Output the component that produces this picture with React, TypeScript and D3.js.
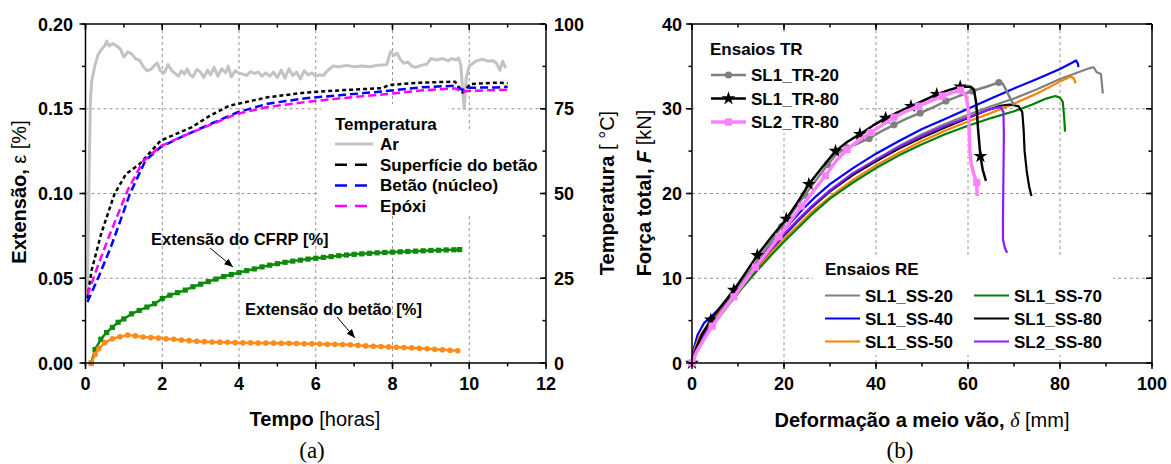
import * as d3 from 'd3'

const W = 1171
const H = 464
const SANS = '"Liberation Sans", Arial, Helvetica, sans-serif'
const SERIF = '"Liberation Serif", "Times New Roman", serif'

// ---------------- (a) creep test ----------------
const HOUR_TICKS = [0, 2, 4, 6, 8, 10, 12]
const STRAIN_TICKS = [0, 0.05, 0.1, 0.15, 0.2]
const STRAIN_LABELS = ['0.00', '0.05', '0.10', '0.15', '0.20']
const TEMP_TICKS = [0, 25, 50, 75, 100]

// temperatures, [hours, °C]
const TEMP_AR = [
  [0.05, 20], [0.1, 60], [0.13, 78], [0.16, 83], [0.25, 88], [0.33, 91], [0.42, 92.6], [0.5, 93.5],
  [0.55, 95], [0.62, 93.5], [0.7, 94.2], [0.8, 93.6], [0.9, 92.8], [1.0, 90.2], [1.1, 91.8], [1.2, 91.2],
  [1.3, 89.8], [1.42, 89.2], [1.5, 87.5], [1.6, 86.2], [1.7, 86.6], [1.8, 87.8], [1.87, 88.5], [1.95, 86.2],
  [2.05, 85.6], [2.15, 88.0], [2.25, 86.2], [2.33, 85.5], [2.42, 84.6], [2.5, 86.2], [2.58, 85.2], [2.65, 86.8],
  [2.72, 85.0], [2.8, 84.4], [2.9, 86.6], [3.0, 85.8], [3.08, 84.2], [3.18, 86.4], [3.26, 85.0], [3.35, 87.2],
  [3.45, 84.6], [3.55, 86.8], [3.65, 85.6], [3.72, 87.6], [3.8, 84.4], [3.9, 86.2], [4.0, 85.5], [4.1, 85.2],
  [4.2, 84.8], [4.3, 86.0], [4.4, 85.4], [4.5, 85.8], [4.6, 84.6], [4.7, 85.6], [4.8, 84.6], [4.9, 85.8],
  [5.0, 84.2], [5.1, 86.4], [5.2, 84.0], [5.3, 86.8], [5.4, 84.8], [5.5, 85.8], [5.6, 83.8], [5.7, 86.2],
  [5.8, 85.0], [5.9, 85.6], [6.0, 84.6], [6.1, 85.0], [6.2, 84.8], [6.3, 86.2], [6.45, 87.6], [6.6, 87.4],
  [6.8, 87.8], [7.0, 87.4], [7.2, 87.6], [7.4, 87.4], [7.6, 87.8], [7.85, 88.0], [7.95, 91.8], [8.05, 90.8],
  [8.12, 91.4], [8.2, 89.6], [8.3, 88.4], [8.4, 88.8], [8.5, 87.6], [8.6, 87.2], [8.75, 87.8], [8.9, 88.2],
  [9.0, 89.8], [9.15, 89.4], [9.3, 89.8], [9.45, 89.2], [9.55, 89.8], [9.65, 89.4], [9.72, 90.0], [9.78, 88.0],
  [9.83, 80], [9.87, 75], [9.92, 84], [10.0, 87.6], [10.1, 88.4], [10.2, 89.2], [10.35, 89.6], [10.5, 89.0],
  [10.6, 89.2], [10.7, 88.6], [10.8, 86.4], [10.87, 89.0], [10.95, 87.0],
]
const TEMP_SURFACE = [
  [0.05, 19], [0.16, 27.4], [0.41, 38.2], [0.76, 50], [1.06, 55.8], [1.41, 58.7], [1.96, 65.6], [2.76, 69.5],
  [3.25, 73], [3.75, 75.9], [4.75, 78.4], [5.74, 79.8], [6.74, 80.5], [7.74, 81.1], [7.9, 82.0], [8.74, 82.7],
  [9.63, 83], [9.83, 79.8], [10.03, 82.3], [10.73, 82.7], [11.0, 82.5],
]
const TEMP_CORE = [
  [0.05, 18], [0.36, 25.9], [0.66, 34.2], [0.91, 42], [1.16, 50], [1.56, 59.7], [1.96, 63.7], [2.56, 67],
  [3.26, 70.5], [3.95, 73.9], [4.75, 76.5], [5.74, 78.1], [6.74, 79.1], [7.74, 80.1], [8.74, 81.3], [9.63, 81.8],
  [9.83, 80.5], [10.0, 81.2], [10.73, 81.3], [11.0, 81.5],
]
const TEMP_EPOXY = [
  [0.05, 20], [0.3, 28], [0.6, 37], [0.85, 44], [1.1, 51], [1.5, 59.5], [1.96, 64], [2.56, 67],
  [3.26, 70.3], [3.95, 73.5], [4.75, 75.5], [5.74, 77], [6.74, 78.2], [7.74, 79.2], [8.74, 80.4], [9.63, 81],
  [9.83, 80], [10.0, 80.3], [10.73, 80.5], [11.0, 80.6],
]
// strains, [hours, %]
const STRAIN_CFRP = [
  [0.15, 0], [0.25, 0.008], [0.4, 0.014], [0.55, 0.018], [0.7, 0.021], [0.85, 0.024], [1.0, 0.026], [1.2, 0.029],
  [1.4, 0.031], [1.6, 0.033], [1.8, 0.035], [2.0, 0.038], [2.2, 0.04], [2.4, 0.0415], [2.6, 0.043], [2.8, 0.045],
  [3.0, 0.0465], [3.2, 0.048], [3.4, 0.0495], [3.6, 0.051], [3.8, 0.0522], [4.0, 0.0533], [4.2, 0.0545], [4.4, 0.0555],
  [4.6, 0.0567], [4.8, 0.0577], [5.0, 0.0586], [5.2, 0.0594], [5.4, 0.0601], [5.6, 0.0607], [5.8, 0.0613], [6.0, 0.0618],
  [6.2, 0.0623], [6.4, 0.0628], [6.6, 0.0633], [6.8, 0.0637], [7.0, 0.0641], [7.2, 0.0644], [7.4, 0.0647], [7.6, 0.065],
  [7.8, 0.0652], [8.0, 0.0654], [8.2, 0.0656], [8.4, 0.0658], [8.6, 0.066], [8.8, 0.0662], [9.0, 0.0664], [9.2, 0.0665],
  [9.4, 0.0667], [9.6, 0.0668], [9.75, 0.0669],
]
const STRAIN_CONCRETE = [
  [0.15, 0], [0.25, 0.005], [0.35, 0.0085], [0.5, 0.012], [0.7, 0.0143], [0.9, 0.0155], [1.1, 0.0165], [1.3, 0.016],
  [1.5, 0.0153], [1.7, 0.015], [1.9, 0.0147], [2.1, 0.0143], [2.3, 0.014], [2.5, 0.0136], [2.7, 0.0132], [2.9, 0.0128],
  [3.1, 0.0126], [3.3, 0.0124], [3.5, 0.0123], [3.7, 0.0122], [3.9, 0.012], [4.1, 0.0119], [4.3, 0.0119], [4.5, 0.0118],
  [4.7, 0.0118], [4.9, 0.0117], [5.1, 0.0116], [5.3, 0.0116], [5.5, 0.0115], [5.7, 0.0114], [5.9, 0.0113], [6.1, 0.0112],
  [6.3, 0.0111], [6.5, 0.011], [6.7, 0.0109], [6.9, 0.0107], [7.1, 0.0104], [7.3, 0.0101], [7.5, 0.0099], [7.7, 0.0097],
  [7.9, 0.0095], [8.1, 0.0093], [8.3, 0.0091], [8.5, 0.0089], [8.7, 0.0087], [8.9, 0.0084], [9.1, 0.0081], [9.3, 0.0078],
  [9.5, 0.0075], [9.7, 0.0072],
]

const TEMP_SERIES = [
  { label: 'Ar', color: '#c3c3c3', dash: null, legendDash: null, width: 3, data: TEMP_AR },
  { label: 'Superfície do betão', color: '#000000', dash: '4,3', legendDash: '12,8', width: 2.5, data: TEMP_SURFACE },
  { label: 'Betão (núcleo)', color: '#0000ff', dash: '8,4', legendDash: '12,8', width: 2.5, data: TEMP_CORE },
  { label: 'Epóxi', color: '#ff00ff', dash: '8,4', legendDash: '12,8', width: 2.5, data: TEMP_EPOXY },
]

// ---------------- (b) bending tests, [mm, kN] ----------------
const DEFL_TICKS = [0, 20, 40, 60, 80, 100]
const FORCE_TICKS = [0, 10, 20, 30, 40]

const SS20 = [
  [0, 0], [0.5, 1.2], [2, 2.8], [5, 4.8], [8, 6.9], [11, 9], [14, 11.1], [17, 13.1], [20, 15], [23, 16.7],
  [26, 18.3], [30, 20.2], [35, 22.2], [40, 24], [45, 25.6], [50, 27], [55, 28.2], [60, 29.3], [65, 30.3],
  [70, 31.2], [75, 32.3], [80, 33.5], [84, 34.3], [86.5, 34.8], [87.3, 34.9], [88, 34.3], [88.9, 34.1],
  [89.1, 33], [89.3, 31.8],
]
const SS40 = [
  [0, 0], [0.3, 1.5], [1.2, 3.3], [2.6, 4.7], [4.4, 5.6], [6.6, 6.8], [9, 8.3], [12, 10.4], [15, 12.4],
  [18, 14.4], [21, 16.3], [24, 18.1], [27, 19.7], [30, 21.1], [35, 23], [40, 24.7], [45, 26.2], [50, 27.6],
  [55, 28.8], [60, 30], [65, 31.2], [70, 32.4], [75, 33.5], [80, 34.7], [82.5, 35.4], [83.5, 35.7],
  [83.9, 35.3], [84.0, 34.9],
]
const SS50 = [
  [0, 0], [0.4, 1.4], [1.5, 3.0], [3, 4.2], [5, 5.4], [8, 7.3], [11, 9.2], [14, 11.1], [17, 12.9], [20, 14.6],
  [23, 16.2], [26, 17.8], [30, 19.6], [35, 21.6], [40, 23.3], [45, 24.8], [50, 26.2], [55, 27.4], [60, 28.5],
  [65, 29.5], [70, 30.6], [75, 31.8], [80, 33.2], [82.3, 33.8], [83, 33.6], [83.4, 33.0],
]
const SS70 = [
  [0, 0], [0.5, 1.2], [2, 2.8], [5, 4.8], [8, 6.9], [11, 8.9], [14, 10.8], [17, 12.6], [20, 14.3], [23, 15.9],
  [26, 17.5], [30, 19.4], [35, 21.3], [40, 23], [45, 24.5], [50, 25.8], [55, 27], [60, 28], [65, 28.9],
  [70, 29.7], [74, 30.5], [77, 31.2], [79, 31.5], [80, 31.3], [80.6, 30.8], [80.9, 29], [81.1, 27.3],
]
const SS80 = [
  [0, 0], [0.5, 1.3], [2, 3], [5, 5], [8, 7.1], [11, 9.2], [14, 11.3], [17, 13.3], [20, 15.1], [23, 16.8],
  [26, 18.4], [30, 20.3], [35, 22.2], [40, 23.8], [45, 25.3], [50, 26.6], [55, 27.8], [60, 28.9], [64, 29.8],
  [67, 30.35], [69, 30.5], [71, 30.3], [71.8, 29.6], [72.1, 27.5], [72.3, 25], [72.8, 22.5], [73.3, 20.8],
  [73.8, 19.7],
]
const SL2_SS80 = [
  [0, 0], [0.5, 1.3], [2, 3], [5, 5], [8, 7.1], [11, 9.2], [14, 11.3], [17, 13.3], [20, 15.2], [23, 16.9],
  [26, 18.5], [30, 20.4], [35, 22.4], [40, 24], [45, 25.5], [50, 26.8], [55, 28], [60, 29], [64, 29.8],
  [66, 30.1], [67.1, 30.2], [67.7, 29.6], [67.8, 27], [67.7, 22], [67.6, 17], [67.6, 14.6], [68, 13.6],
  [68.5, 13],
]
const TR20 = [
  [0, 0], [1, 1.4], [2.5, 2.8], [4.5, 4.7], [7, 6.6], [9.5, 8.5], [12, 10.4], [14.5, 12.3], [17, 14.2],
  [19.5, 16.1], [22, 17.9], [24.5, 19.8], [27, 21.6], [29.5, 23.4], [31.5, 24.7], [33.7, 25.4], [36, 25.9],
  [38.5, 26.5], [41, 27.3], [43.9, 28.1], [46.5, 28.8], [49.6, 29.5], [52.5, 30.2], [55.2, 30.9], [58, 31.5],
  [61, 32.1], [64, 32.6], [66.7, 33.1], [67.5, 33.0], [68.3, 32.2], [69.2, 31.2], [70, 30.4],
]
const TR20_MARKS = [
  [0, 0], [4.5, 4.7], [9.5, 8.5], [14.5, 12.3], [19.5, 16.1], [24.5, 19.8], [29.5, 23.4], [33.7, 25.4],
  [38.5, 26.5], [43.9, 28.1], [49.6, 29.5], [55.2, 30.9], [61, 32.1], [66.7, 33.1],
]
const TR80 = [
  [0, 0], [1, 1.8], [2, 3.2], [4.1, 5.1], [6.5, 6.8], [9.1, 8.6], [11.6, 10.6], [14.2, 12.7], [17.3, 14.9],
  [20.5, 17.0], [23, 19], [25.4, 21.1], [28.3, 23.1], [31.2, 25.0], [33.8, 26.1], [36.5, 27.0], [39.3, 28.0],
  [42.1, 28.9], [44.8, 29.6], [47.6, 30.3], [50.4, 31.0], [53.2, 31.7], [55.8, 32.2], [58.3, 32.6], [60.6, 32.6],
  [61.3, 32.2], [61.8, 30.6], [62.2, 27.5], [62.7, 24.4], [63.2, 22.8], [63.9, 21.5],
]
const TR80_MARKS = [
  [0, 0], [4.1, 5.1], [9.1, 8.6], [14.2, 12.7], [20.5, 17.0], [25.4, 21.1], [31.2, 25.0], [36.5, 27.0],
  [42.1, 28.9], [47.6, 30.3], [53.2, 31.7], [58.3, 32.6], [62.7, 24.4],
]
const SL2_TR80 = [
  [0, 0], [1, 1.3], [2.5, 2.7], [4.4, 4.35], [6.7, 6.1], [9.1, 7.8], [11.5, 9.6], [13.8, 11.3], [16.4, 13.1],
  [18.9, 14.9], [21.3, 16.7], [23.8, 18.5], [26.4, 20.3], [29, 22.1], [31.4, 23.9], [33.7, 25.2], [36.3, 26.3],
  [38.9, 27.2], [41.4, 28.1], [43.9, 29], [46.5, 29.7], [49.2, 30.3], [51.8, 30.9], [54.4, 31.5], [56.5, 31.9],
  [58.4, 32.2], [59.6, 31.5], [60.1, 29.7], [60.4, 25.1], [60.7, 23.5], [61.3, 22.2], [61.9, 21.3], [62.0, 19.7],
]
const SL2_TR80_MARKS = [
  [0, 0], [4.4, 4.35], [9.1, 7.8], [13.8, 11.3], [18.9, 14.9], [23.8, 18.5], [29, 22.1], [33.7, 25.2],
  [38.9, 27.2], [43.9, 29], [49.2, 30.3], [54.4, 31.5], [58.4, 32.2], [61.9, 21.3],
]

const RE_SERIES = [
  { label: 'SL1_SS-20', color: '#808080', data: SS20 },
  { label: 'SL1_SS-40', color: '#0000ff', data: SS40 },
  { label: 'SL1_SS-50', color: '#ff8000', data: SS50 },
  { label: 'SL1_SS-70', color: '#008000', data: SS70 },
  { label: 'SL1_SS-80', color: '#000000', data: SS80 },
  { label: 'SL2_SS-80', color: '#8c1aff', data: SL2_SS80 },
]
const TR_SERIES = [
  { label: 'SL1_TR-20', color: '#808080', width: 2.5, marker: 'circle', data: TR20, marks: TR20_MARKS },
  { label: 'SL1_TR-80', color: '#000000', width: 2.5, marker: 'star', data: TR80, marks: TR80_MARKS },
  { label: 'SL2_TR-80', color: '#ff80ff', width: 3.5, marker: 'square', data: SL2_TR80, marks: SL2_TR80_MARKS },
]

// plot frames
const TOP = 24
const BOTTOM = 363
const A_LEFT = 85.5
const A_RIGHT = 546
const B_LEFT = 692
const B_RIGHT = 1152

const xA = d3.scaleLinear().domain([0, 12]).range([A_LEFT, A_RIGHT])
const yA = d3.scaleLinear().domain([0, 0.2]).range([BOTTOM, TOP])
const tA = d3.scaleLinear().domain([0, 100]).range([BOTTOM, TOP])
const xB = d3.scaleLinear().domain([0, 100]).range([B_LEFT, B_RIGHT])
const yB = d3.scaleLinear().domain([0, 40]).range([BOTTOM, TOP])

const GRID = { stroke: '#8a8a8a', strokeWidth: 0.9, strokeDasharray: '3,3' }

function Marker({ kind, x, y, color, size = 1 }) {
  if (kind === 'circle') return <circle cx={x} cy={y} r={3.6 * size} fill={color} />
  if (kind === 'square') return <rect x={x - 3.6 * size} y={y - 3.6 * size} width={7.2 * size} height={7.2 * size} fill={color} />
  const star = d3.symbol().type(d3.symbolStar).size(60 * size)()
  return <path d={star} transform={`translate(${x},${y})`} fill={color} />
}

// tick marks along a side; dir = +1/-1 in pixels
function TickSet({ values, scale, side, at, len }) {
  return (
    <g stroke="#000" strokeWidth={1.5}>
      {values.map((v) => {
        const p = scale(v)
        return side === 'h'
          ? <line key={v} x1={p} x2={p} y1={at} y2={at + len} />
          : <line key={v} x1={at} x2={at + len} y1={p} y2={p} />
      })}
    </g>
  )
}

export default function App() {
  const lineA = (yS) => d3.line().x((d) => xA(d[0])).y((d) => yS(d[1]))
  const lineB = d3.line().x((d) => xB(d[0])).y((d) => yB(d[1]))

  const hourMinor = d3.range(0, 12.01, 1)
  const strainMinor = d3.range(0, 0.2001, 0.025)
  const tempMinor = d3.range(0, 100.1, 12.5)
  const deflMinor = d3.range(0, 100.1, 10)
  const forceMinor = d3.range(0, 40.1, 5)

  const tick = { fontFamily: SANS, fontWeight: 700, fontSize: 18 }
  const title = { fontFamily: SANS, fontSize: 20 }
  const leg = { fontFamily: SANS, fontWeight: 700, fontSize: 17 }

  return (
    <svg width={W} height={H} style={{ position: 'absolute', left: 0, top: 0, background: '#fff' }}>
      <defs>
        <marker id="arrow" viewBox="0 0 10 8" refX="10" refY="4" markerWidth="9" markerHeight="7"
          markerUnits="userSpaceOnUse" orient="auto">
          <path d="M0,0 L10,4 L0,8 z" fill="#000" />
        </marker>
      </defs>

      {/* ================= (a) ================= */}
      <g>
        {HOUR_TICKS.slice(1, -1).map((h) => (
          <line key={h} x1={xA(h)} x2={xA(h)} y1={TOP} y2={BOTTOM} {...GRID} />
        ))}
        {STRAIN_TICKS.slice(1, -1).map((s) => (
          <line key={s} x1={A_LEFT} x2={A_RIGHT} y1={yA(s)} y2={yA(s)} {...GRID} />
        ))}
        {/* legend backgrounds */}
        <rect x={321} y={104} width={127} height={28} fill="#fff" />
        <rect x={319} y={131} width={226} height={83} fill="#fff" />

        {TEMP_SERIES.map((s) => (
          <path key={s.label} d={lineA(tA)(s.data)} fill="none" stroke={s.color} strokeWidth={s.width}
            strokeDasharray={s.dash || undefined} strokeLinejoin="round" />
        ))}
        <path d={lineA(yA)(STRAIN_CFRP)} fill="none" stroke="#0f8a0f" strokeWidth={2.5} />
        {STRAIN_CFRP.map((d, i) => (
          <rect key={i} x={xA(d[0]) - 2.6} y={yA(d[1]) - 2.6} width={5.2} height={5.2} fill="#0f8a0f" />
        ))}
        <path d={lineA(yA)(STRAIN_CONCRETE)} fill="none" stroke="#ff8c1a" strokeWidth={2.5} />
        {STRAIN_CONCRETE.map((d, i) => (
          <circle key={i} cx={xA(d[0])} cy={yA(d[1])} r={2.8} fill="#ff8c1a" />
        ))}

        {/* annotations */}
        <text x={151} y={245} {...leg} fontSize={16.5}>Extensão do CFRP [%]</text>
        <line x1={210} y1={248} x2={233} y2={267} stroke="#000" strokeWidth={1} markerEnd="url(#arrow)" />
        <text x={245} y={315} {...leg} fontSize={16.5}>Extensão do betão [%]</text>
        <line x1={337} y1={317} x2={355} y2={338} stroke="#000" strokeWidth={1} markerEnd="url(#arrow)" />

        {/* legend */}
        <text x={335} y={130} {...leg}>Temperatura</text>
        {TEMP_SERIES.map((s, i) => {
          const y = 150 + i * 20.7
          return (
            <g key={s.label}>
              <line x1={335} x2={373} y1={y - 6} y2={y - 6} stroke={s.color} strokeWidth={s.width}
                strokeDasharray={s.legendDash || undefined} />
              <text x={380} y={y} {...leg}>{s.label}</text>
            </g>
          )
        })}

        {/* frame */}
        <g stroke="#000" strokeWidth={1.5} fill="none">
          <line x1={A_LEFT} x2={A_RIGHT} y1={TOP} y2={TOP} />
          <line x1={A_LEFT} x2={A_RIGHT} y1={BOTTOM} y2={BOTTOM} />
          <line x1={A_LEFT} x2={A_LEFT} y1={TOP} y2={BOTTOM} />
          <line x1={A_RIGHT} x2={A_RIGHT} y1={TOP} y2={BOTTOM} />
        </g>
        <TickSet values={HOUR_TICKS} scale={xA} side="h" at={BOTTOM} len={6} />
        <TickSet values={hourMinor} scale={xA} side="h" at={BOTTOM} len={3.5} />
        <TickSet values={HOUR_TICKS} scale={xA} side="h" at={TOP} len={6} />
        <TickSet values={hourMinor} scale={xA} side="h" at={TOP} len={3.5} />
        <TickSet values={STRAIN_TICKS} scale={yA} side="v" at={A_LEFT} len={-6} />
        <TickSet values={strainMinor} scale={yA} side="v" at={A_LEFT} len={-3.5} />
        <TickSet values={TEMP_TICKS} scale={tA} side="v" at={A_RIGHT} len={-6} />
        <TickSet values={tempMinor} scale={tA} side="v" at={A_RIGHT} len={-3.5} />

        {STRAIN_TICKS.map((s, i) => (
          <text key={s} x={73} y={yA(s) + 6.5} textAnchor="end" {...tick}>{STRAIN_LABELS[i]}</text>
        ))}
        {TEMP_TICKS.map((t) => (
          <text key={t} x={554} y={tA(t) + 6.5} {...tick}>{t}</text>
        ))}
        {HOUR_TICKS.map((h) => (
          <text key={h} x={xA(h)} y={390} textAnchor="middle" {...tick}>{h}</text>
        ))}

        <text x={315} y={426} textAnchor="middle" {...title}>
          <tspan fontWeight={700}>Tempo</tspan> [horas]
        </text>
        <text transform="translate(26,192) rotate(-90)" textAnchor="middle" {...title}>
          <tspan fontWeight={700}>Extensão,</tspan> ε [%]
        </text>
        <text transform="translate(614,193) rotate(-90)" textAnchor="middle" {...title}>
          <tspan fontWeight={700}>Temperatura</tspan> [ °C]
        </text>
        <text x={312} y={458} textAnchor="middle" fontFamily={SERIF} fontSize={23}>(a)</text>
      </g>

      {/* ================= (b) ================= */}
      <g>
        {DEFL_TICKS.slice(1, -1).map((d) => (
          <line key={d} x1={xB(d)} x2={xB(d)} y1={TOP} y2={BOTTOM} {...GRID} />
        ))}
        {FORCE_TICKS.slice(1, -1).map((f) => (
          <line key={f} x1={B_LEFT} x2={B_RIGHT} y1={yB(f)} y2={yB(f)} {...GRID} />
        ))}
        {/* legend backgrounds */}
        <rect x={694} y={32} width={163} height={101} fill="#fff" />
        <rect x={813} y={257} width={300} height={98} fill="#fff" />

        {RE_SERIES.map((s) => (
          <path key={s.label} d={lineB(s.data)} fill="none" stroke={s.color} strokeWidth={2.2} strokeLinejoin="round" />
        ))}
        {TR_SERIES.map((s) => (
          <g key={s.label}>
            <path d={lineB(s.data)} fill="none" stroke={s.color} strokeWidth={s.width} strokeLinejoin="round" />
            {s.marks.map((d, i) => (
              <Marker key={i} kind={s.marker} x={xB(d[0])} y={yB(d[1])} color={s.color} />
            ))}
          </g>
        ))}

        {/* TR legend */}
        <text x={710} y={55} {...leg}>Ensaios TR</text>
        {TR_SERIES.map((s, i) => {
          const y = 81 + i * 23.5
          return (
            <g key={s.label}>
              <line x1={711} x2={746} y1={y - 6} y2={y - 6} stroke={s.color} strokeWidth={s.width} />
              <Marker kind={s.marker} x={728.5} y={y - 6} color={s.color} />
              <text x={751} y={y} {...leg}>{s.label}</text>
            </g>
          )
        })}

        {/* RE legend */}
        <text x={825} y={275} {...leg}>Ensaios RE</text>
        {RE_SERIES.map((s, i) => {
          const col = Math.floor(i / 3)
          const y = 301.5 + (i % 3) * 23
          const x0 = col === 0 ? 825 : 974
          return (
            <g key={s.label}>
              <line x1={x0} x2={x0 + 35} y1={y - 6} y2={y - 6} stroke={s.color} strokeWidth={2} />
              <text x={x0 + 40} y={y} {...leg}>{s.label}</text>
            </g>
          )
        })}

        {/* frame */}
        <g stroke="#000" strokeWidth={1.5} fill="none">
          <line x1={B_LEFT} x2={B_RIGHT} y1={TOP} y2={TOP} />
          <line x1={B_LEFT} x2={B_RIGHT} y1={BOTTOM} y2={BOTTOM} />
          <line x1={B_LEFT} x2={B_LEFT} y1={TOP} y2={BOTTOM} />
          <line x1={B_RIGHT} x2={B_RIGHT} y1={TOP} y2={BOTTOM} />
        </g>
        <TickSet values={DEFL_TICKS} scale={xB} side="h" at={BOTTOM} len={6} />
        <TickSet values={deflMinor} scale={xB} side="h" at={BOTTOM} len={3.5} />
        <TickSet values={DEFL_TICKS} scale={xB} side="h" at={TOP} len={6} />
        <TickSet values={deflMinor} scale={xB} side="h" at={TOP} len={3.5} />
        <TickSet values={FORCE_TICKS} scale={yB} side="v" at={B_LEFT} len={-6} />
        <TickSet values={forceMinor} scale={yB} side="v" at={B_LEFT} len={-3.5} />
        <TickSet values={FORCE_TICKS} scale={yB} side="v" at={B_RIGHT} len={-6} />
        <TickSet values={forceMinor} scale={yB} side="v" at={B_RIGHT} len={-3.5} />

        {FORCE_TICKS.map((f) => (
          <text key={f} x={682} y={yB(f) + 6.5} textAnchor="end" {...tick}>{f}</text>
        ))}
        {DEFL_TICKS.map((d) => (
          <text key={d} x={xB(d)} y={390} textAnchor="middle" {...tick}>{d}</text>
        ))}

        <text x={922} y={427} textAnchor="middle" {...title}>
          <tspan fontWeight={700}>Deformação a meio vão, </tspan>
          <tspan fontFamily={SERIF} fontStyle="italic">δ</tspan> [mm]
        </text>
        <text transform="translate(651,193) rotate(-90)" textAnchor="middle" {...title}>
          <tspan fontWeight={700}>Força total, </tspan>
          <tspan fontWeight={700} fontStyle="italic">F</tspan> [kN]
        </text>
        <text x={900} y={458} textAnchor="middle" fontFamily={SERIF} fontSize={23}>(b)</text>
      </g>
    </svg>
  )
}
